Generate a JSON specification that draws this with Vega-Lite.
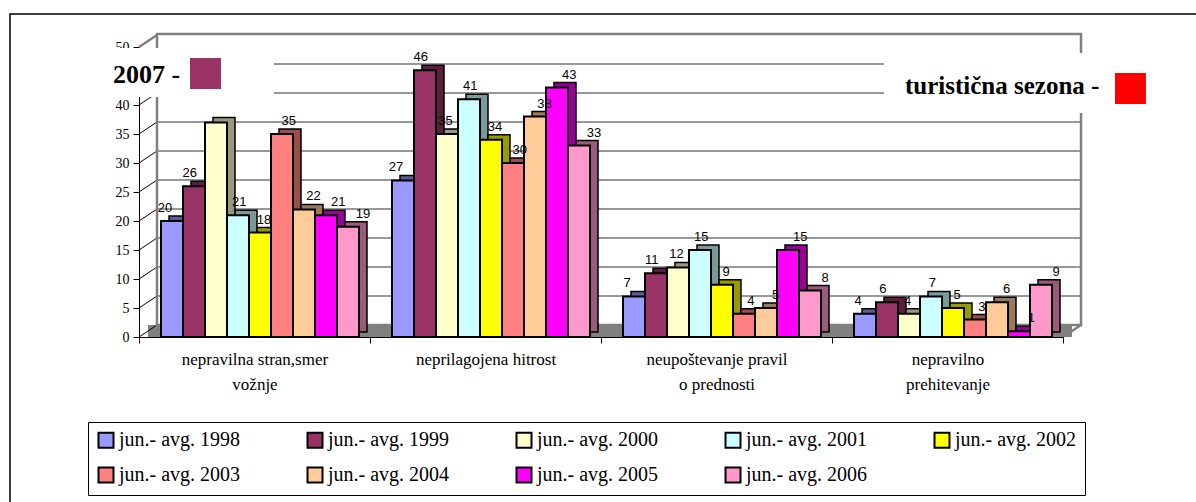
{
  "$schema": "https://vega.github.io/schema/vega-lite/v6.json",
  "width": 924,
  "height": 290,
  "autosize": {"type": "none"},
  "padding": {"left": 139, "top": 47, "right": 133, "bottom": 165},
  "background": "white",
  "config": {
    "view": {"stroke": null},
    "font": "Liberation Serif",
    "axis": {"labelFont": "Liberation Serif", "labelColor": "black", "tickColor": "black", "domainColor": "black", "grid": false},
    "axisX": {
      "tickBand": "extent", "tickSize": 6, "labelFontSize": 17,
      "labelAlign": "center", "labelBaseline": "top", "labelPadding": 8, "labelLineHeight": 25,
      "labelAngle": 0, "labelLimit": 400
    },
    "axisY": {"labelFontSize": 14, "tickSize": 6, "labelPadding": 4},
    "axisLeft": {"labelFontSize": 14, "tickSize": 6, "labelPadding": 4}
  },
  "datasets": {
    "bars": [
      {"cat": "nepravilna stran,smer vožnje", "year": "jun.- avg. 1998", "value": 20, "label": "20"},
      {"cat": "nepravilna stran,smer vožnje", "year": "jun.- avg. 1999", "value": 26, "label": "26"},
      {"cat": "nepravilna stran,smer vožnje", "year": "jun.- avg. 2000", "value": 37, "label": ""},
      {"cat": "nepravilna stran,smer vožnje", "year": "jun.- avg. 2001", "value": 21, "label": "21"},
      {"cat": "nepravilna stran,smer vožnje", "year": "jun.- avg. 2002", "value": 18, "label": "18"},
      {"cat": "nepravilna stran,smer vožnje", "year": "jun.- avg. 2003", "value": 35, "label": "35"},
      {"cat": "nepravilna stran,smer vožnje", "year": "jun.- avg. 2004", "value": 22, "label": "22"},
      {"cat": "nepravilna stran,smer vožnje", "year": "jun.- avg. 2005", "value": 21, "label": "21"},
      {"cat": "nepravilna stran,smer vožnje", "year": "jun.- avg. 2006", "value": 19, "label": "19"},
      {"cat": "neprilagojena hitrost", "year": "jun.- avg. 1998", "value": 27, "label": "27"},
      {"cat": "neprilagojena hitrost", "year": "jun.- avg. 1999", "value": 46, "label": "46"},
      {"cat": "neprilagojena hitrost", "year": "jun.- avg. 2000", "value": 35, "label": "35"},
      {"cat": "neprilagojena hitrost", "year": "jun.- avg. 2001", "value": 41, "label": "41"},
      {"cat": "neprilagojena hitrost", "year": "jun.- avg. 2002", "value": 34, "label": "34"},
      {"cat": "neprilagojena hitrost", "year": "jun.- avg. 2003", "value": 30, "label": "30"},
      {"cat": "neprilagojena hitrost", "year": "jun.- avg. 2004", "value": 38, "label": "38"},
      {"cat": "neprilagojena hitrost", "year": "jun.- avg. 2005", "value": 43, "label": "43"},
      {"cat": "neprilagojena hitrost", "year": "jun.- avg. 2006", "value": 33, "label": "33"},
      {"cat": "neupoštevanje pravil o prednosti", "year": "jun.- avg. 1998", "value": 7, "label": "7"},
      {"cat": "neupoštevanje pravil o prednosti", "year": "jun.- avg. 1999", "value": 11, "label": "11"},
      {"cat": "neupoštevanje pravil o prednosti", "year": "jun.- avg. 2000", "value": 12, "label": "12"},
      {"cat": "neupoštevanje pravil o prednosti", "year": "jun.- avg. 2001", "value": 15, "label": "15"},
      {"cat": "neupoštevanje pravil o prednosti", "year": "jun.- avg. 2002", "value": 9, "label": "9"},
      {"cat": "neupoštevanje pravil o prednosti", "year": "jun.- avg. 2003", "value": 4, "label": "4"},
      {"cat": "neupoštevanje pravil o prednosti", "year": "jun.- avg. 2004", "value": 5, "label": "5"},
      {"cat": "neupoštevanje pravil o prednosti", "year": "jun.- avg. 2005", "value": 15, "label": "15"},
      {"cat": "neupoštevanje pravil o prednosti", "year": "jun.- avg. 2006", "value": 8, "label": "8"},
      {"cat": "nepravilno prehitevanje", "year": "jun.- avg. 1998", "value": 4, "label": "4"},
      {"cat": "nepravilno prehitevanje", "year": "jun.- avg. 1999", "value": 6, "label": "6"},
      {"cat": "nepravilno prehitevanje", "year": "jun.- avg. 2000", "value": 4, "label": "4"},
      {"cat": "nepravilno prehitevanje", "year": "jun.- avg. 2001", "value": 7, "label": "7"},
      {"cat": "nepravilno prehitevanje", "year": "jun.- avg. 2002", "value": 5, "label": "5"},
      {"cat": "nepravilno prehitevanje", "year": "jun.- avg. 2003", "value": 3, "label": "3"},
      {"cat": "nepravilno prehitevanje", "year": "jun.- avg. 2004", "value": 6, "label": "6"},
      {"cat": "nepravilno prehitevanje", "year": "jun.- avg. 2005", "value": 1, "label": "1"},
      {"cat": "nepravilno prehitevanje", "year": "jun.- avg. 2006", "value": 9, "label": "9"}
    ],
    "ticks": [{"t": 0}, {"t": 5}, {"t": 10}, {"t": 15}, {"t": 20}, {"t": 25}, {"t": 30}, {"t": 35}, {"t": 40}, {"t": 45}, {"t": 50}],
    "one": [{"k": 1}]
  },
  "layer": [
    {
      "data": {"name": "one"},
      "mark": {"type": "rect", "fillOpacity": 0, "stroke": "black", "strokeWidth": 1.5},
      "encoding": {
        "x": {"datum": "nepravilna stran,smer vožnje", "type": "nominal", "bandPosition": -0.5584, "axis": {"title": null}},
        "x2": {"datum": "nepravilno prehitevanje", "bandPosition": 2},
        "y": {"datum": 55.69, "type": "quantitative", "axis": {"title": null, "orient": "left", "values": [0, 5, 10, 15, 20, 25, 30, 35, 40, 50], "labelFontSize": 14, "tickSize": 6, "labelPadding": 4, "labelFont": "Liberation Serif", "labelColor": "black"}},
        "y2": {"datum": -38}
      }
    },
    {
      "data": {"name": "one"},
      "mark": {"type": "rect", "fill": "#808080"},
      "encoding": {
        "x": {"datum": "nepravilna stran,smer vožnje", "type": "nominal", "bandPosition": 0.039, "axis": {"title": null}},
        "x2": {"datum": "nepravilno prehitevanje", "bandPosition": 1.039},
        "y": {"datum": 0, "type": "quantitative", "axis": {"title": null, "orient": "left", "values": [0, 5, 10, 15, 20, 25, 30, 35, 40, 50], "labelFontSize": 14, "tickSize": 6, "labelPadding": 4, "labelFont": "Liberation Serif", "labelColor": "black"}},
        "y2": {"datum": 2.069}
      }
    },
    {
      "data": {"name": "ticks"},
      "transform": [{"filter": "datum.t > 0 && datum.t < 50"}],
      "mark": {"type": "rule", "color": "#333333", "strokeWidth": 1, "yOffset": -12},
      "encoding": {
        "x": {"datum": "nepravilna stran,smer vožnje", "type": "nominal", "bandPosition": 0.0779, "axis": {"title": null}},
        "x2": {"datum": "nepravilno prehitevanje", "bandPosition": 1.078},
        "y": {"field": "t", "type": "quantitative", "axis": {"title": null, "orient": "left", "values": [0, 5, 10, 15, 20, 25, 30, 35, 40, 50], "labelFontSize": 14, "tickSize": 6, "labelPadding": 4, "labelFont": "Liberation Serif", "labelColor": "black"}}
      }
    },
    {
      "data": {"name": "ticks"},
      "mark": {"type": "rule", "color": "black", "strokeWidth": 1, "y2Offset": -12},
      "encoding": {
        "x": {"datum": "nepravilna stran,smer vožnje", "type": "nominal", "bandPosition": 0, "axis": {"title": null}},
        "x2": {"datum": "nepravilna stran,smer vožnje", "bandPosition": 0.0779},
        "y": {"field": "t", "type": "quantitative", "axis": {"title": null, "orient": "left", "values": [0, 5, 10, 15, 20, 25, 30, 35, 40, 50], "labelFontSize": 14, "tickSize": 6, "labelPadding": 4, "labelFont": "Liberation Serif", "labelColor": "black"}},
        "y2": {"field": "t"}
      }
    },
    {
      "data": {"name": "one"},
      "mark": {"type": "rect", "fillOpacity": 0, "stroke": "#808080", "strokeWidth": 2.5},
      "encoding": {
        "x": {"datum": "nepravilna stran,smer vožnje", "type": "nominal", "bandPosition": 0.0779, "axis": {"title": null}},
        "x2": {"datum": "nepravilno prehitevanje", "bandPosition": 1.078},
        "y": {"datum": 52.24, "type": "quantitative", "axis": {"title": null, "orient": "left", "values": [0, 5, 10, 15, 20, 25, 30, 35, 40, 50], "labelFontSize": 14, "tickSize": 6, "labelPadding": 4, "labelFont": "Liberation Serif", "labelColor": "black"}},
        "y2": {"datum": 2.069}
      }
    },
    {
      "data": {"name": "one"},
      "mark": {"type": "rule", "color": "#808080", "strokeWidth": 2.5, "y2Offset": -12},
      "encoding": {
        "x": {"datum": "nepravilna stran,smer vožnje", "type": "nominal", "bandPosition": 0, "axis": {"title": null}},
        "x2": {"datum": "nepravilna stran,smer vožnje", "bandPosition": 0.0779},
        "y": {"datum": 50, "type": "quantitative", "axis": {"title": null, "orient": "left", "values": [0, 5, 10, 15, 20, 25, 30, 35, 40, 50], "labelFontSize": 14, "tickSize": 6, "labelPadding": 4, "labelFont": "Liberation Serif", "labelColor": "black"}},
        "y2": {"datum": 50}
      }
    },
    {
      "data": {"name": "one"},
      "mark": {"type": "rule", "color": "#808080", "strokeWidth": 2.5, "y2Offset": -12},
      "encoding": {
        "x": {"datum": "nepravilno prehitevanje", "type": "nominal", "bandPosition": 1, "axis": {"title": null}},
        "x2": {"datum": "nepravilno prehitevanje", "bandPosition": 1.078},
        "y": {"datum": 0, "type": "quantitative", "axis": {"title": null, "orient": "left", "values": [0, 5, 10, 15, 20, 25, 30, 35, 40, 50], "labelFontSize": 14, "tickSize": 6, "labelPadding": 4, "labelFont": "Liberation Serif", "labelColor": "black"}},
        "y2": {"datum": 0}
      }
    },
    {
      "data": {"name": "bars"},
      "layer": [
        {
          "mark": {"type": "bar", "yOffset": -5, "y2Offset": -5, "stroke": "black", "strokeWidth": 1.5},
          "encoding": {
            "x": {"field": "cat", "type": "nominal", "axis": {"title": null}},
            "xOffset": {"field": "year", "type": "nominal", "scale": {"range": [30, 228], "paddingInner": 0, "paddingOuter": 0}},
            "y": {"field": "value", "type": "quantitative", "axis": {"title": null, "orient": "left", "values": [0, 5, 10, 15, 20, 25, 30, 35, 40, 50], "labelFontSize": 14, "tickSize": 6, "labelPadding": 4, "labelFont": "Liberation Serif", "labelColor": "black"}},
            "color": {"field": "year", "type": "nominal"}
          }
        },
        {
          "mark": {"type": "bar", "yOffset": -5, "y2Offset": -5, "fill": "black", "fillOpacity": 0.4},
          "encoding": {
            "x": {"field": "cat", "type": "nominal", "axis": {"title": null}},
            "xOffset": {"field": "year", "type": "nominal", "scale": {"range": [30, 228], "paddingInner": 0, "paddingOuter": 0}},
            "y": {"field": "value", "type": "quantitative", "axis": {"title": null, "orient": "left", "values": [0, 5, 10, 15, 20, 25, 30, 35, 40, 50], "labelFontSize": 14, "tickSize": 6, "labelPadding": 4, "labelFont": "Liberation Serif", "labelColor": "black"}}
          }
        },
        {
          "mark": {"type": "bar", "stroke": "black", "strokeWidth": 2},
          "encoding": {
            "x": {
              "field": "cat", "type": "nominal",
              "scale": {"domain": ["nepravilna stran,smer vožnje", "neprilagojena hitrost", "neupoštevanje pravil o prednosti", "nepravilno prehitevanje"], "paddingInner": 0, "paddingOuter": 0},
              "axis": {
                "title": null, "orient": "bottom",
                "labelExpr": "datum.value == 'nepravilna stran,smer vožnje' ? ['nepravilna stran,smer', 'vožnje'] : datum.value == 'neupoštevanje pravil o prednosti' ? ['neupoštevanje pravil', 'o prednosti'] : datum.value == 'nepravilno prehitevanje' ? ['nepravilno', 'prehitevanje'] : datum.value"
              }
            },
            "xOffset": {"field": "year", "type": "nominal", "scale": {"range": [22, 220], "paddingInner": 0, "paddingOuter": 0}},
            "y": {
              "field": "value", "type": "quantitative",
              "scale": {"domain": [0, 50], "nice": false},
              "axis": {"title": null, "orient": "left", "values": [0, 5, 10, 15, 20, 25, 30, 35, 40, 50], "labelFontSize": 14, "tickSize": 6, "labelPadding": 4, "labelFont": "Liberation Serif", "labelColor": "black"}
            },
            "color": {
              "field": "year", "type": "nominal",
              "scale": {
                "domain": ["jun.- avg. 1998", "jun.- avg. 1999", "jun.- avg. 2000", "jun.- avg. 2001", "jun.- avg. 2002", "jun.- avg. 2003", "jun.- avg. 2004", "jun.- avg. 2005", "jun.- avg. 2006"],
                "range": ["#9999FF", "#993366", "#FFFFCC", "#CCFFFF", "#FFFF00", "#FF8080", "#FFCC99", "#FF00FF", "#FF99CC"]
              },
              "legend": {
                "orient": "none", "legendX": -51, "legendY": 375, "direction": "horizontal", "columns": 5,
                "title": null, "symbolType": "square", "symbolSize": 225, "symbolStrokeColor": "black",
                "symbolStrokeWidth": 2, "labelFont": "Liberation Serif", "labelFontSize": 20, "labelColor": "black",
                "labelOffset": 3, "columnPadding": 62, "rowPadding": 11, "padding": 8, "strokeColor": "black",
                "fillColor": "white", "labelLimit": 300
              }
            }
          }
        },
        {
          "mark": {"type": "text", "font": "Liberation Sans", "fontSize": 13, "color": "black", "baseline": "bottom", "dy": -6},
          "encoding": {
            "x": {"field": "cat", "type": "nominal", "axis": {"title": null}},
            "xOffset": {"field": "year", "type": "nominal", "scale": {"range": [26, 224], "paddingInner": 0, "paddingOuter": 0}},
            "y": {"field": "value", "type": "quantitative", "axis": {"title": null, "orient": "left", "values": [0, 5, 10, 15, 20, 25, 30, 35, 40, 50], "labelFontSize": 14, "tickSize": 6, "labelPadding": 4, "labelFont": "Liberation Serif", "labelColor": "black"}},
            "text": {"field": "label"}
          }
        }
      ],
      "resolve": {"scale": {"xOffset": "independent"}}
    },
    {
      "data": {"name": "one"},
      "mark": {"type": "rect", "fill": "white"},
      "encoding": {
        "x": {"datum": "nepravilna stran,smer vožnje", "type": "nominal", "bandPosition": -0.169, "axis": {"title": null}},
        "x2": {"datum": "nepravilna stran,smer vožnje", "bandPosition": 0.584},
        "y": {"datum": 49.83, "type": "quantitative", "axis": {"title": null, "orient": "left", "values": [0, 5, 10, 15, 20, 25, 30, 35, 40, 50], "labelFontSize": 14, "tickSize": 6, "labelPadding": 4, "labelFont": "Liberation Serif", "labelColor": "black"}},
        "y2": {"datum": 41.38}
      }
    },
    {
      "data": {"name": "one"},
      "mark": {"type": "rect", "fill": "white"},
      "encoding": {
        "x": {"datum": "nepravilno prehitevanje", "type": "nominal", "bandPosition": 0.225, "axis": {"title": null}},
        "x2": {"datum": "nepravilno prehitevanje", "bandPosition": 1.42},
        "y": {"datum": 48.97, "type": "quantitative", "axis": {"title": null, "orient": "left", "values": [0, 5, 10, 15, 20, 25, 30, 35, 40, 50], "labelFontSize": 14, "tickSize": 6, "labelPadding": 4, "labelFont": "Liberation Serif", "labelColor": "black"}},
        "y2": {"datum": 38.62}
      }
    },
    {
      "data": {"name": "one"},
      "mark": {"type": "text", "font": "Liberation Serif", "fontWeight": "bold", "fontSize": 26, "align": "left", "baseline": "alphabetic", "color": "black"},
      "encoding": {
        "x": {"datum": "nepravilna stran,smer vožnje", "type": "nominal", "bandPosition": -0.1126, "axis": {"title": null}},
        "y": {"datum": 43.79, "type": "quantitative", "axis": {"title": null, "orient": "left", "values": [0, 5, 10, 15, 20, 25, 30, 35, 40, 50], "labelFontSize": 14, "tickSize": 6, "labelPadding": 4, "labelFont": "Liberation Serif", "labelColor": "black"}},
        "text": {"value": "2007 -"}
      }
    },
    {
      "data": {"name": "one"},
      "mark": {"type": "rect", "fill": "#993366"},
      "encoding": {
        "x": {"datum": "nepravilna stran,smer vožnje", "type": "nominal", "bandPosition": 0.2208, "axis": {"title": null}},
        "x2": {"datum": "nepravilna stran,smer vožnje", "bandPosition": 0.355},
        "y": {"datum": 48.1, "type": "quantitative", "axis": {"title": null, "orient": "left", "values": [0, 5, 10, 15, 20, 25, 30, 35, 40, 50], "labelFontSize": 14, "tickSize": 6, "labelPadding": 4, "labelFont": "Liberation Serif", "labelColor": "black"}},
        "y2": {"datum": 42.76}
      }
    },
    {
      "data": {"name": "one"},
      "mark": {"type": "text", "font": "Liberation Serif", "fontWeight": "bold", "fontSize": 25, "align": "left", "baseline": "alphabetic", "color": "black"},
      "encoding": {
        "x": {"datum": "nepravilno prehitevanje", "type": "nominal", "bandPosition": 0.316, "axis": {"title": null}},
        "y": {"datum": 41.9, "type": "quantitative", "axis": {"title": null, "orient": "left", "values": [0, 5, 10, 15, 20, 25, 30, 35, 40, 50], "labelFontSize": 14, "tickSize": 6, "labelPadding": 4, "labelFont": "Liberation Serif", "labelColor": "black"}},
        "text": {"value": "turistična sezona -"}
      }
    },
    {
      "data": {"name": "one"},
      "mark": {"type": "rect", "fill": "#FF0000"},
      "encoding": {
        "x": {"datum": "nepravilno prehitevanje", "type": "nominal", "bandPosition": 1.225, "axis": {"title": null}},
        "x2": {"datum": "nepravilno prehitevanje", "bandPosition": 1.359},
        "y": {"datum": 45.52, "type": "quantitative", "axis": {"title": null, "orient": "left", "values": [0, 5, 10, 15, 20, 25, 30, 35, 40, 50], "labelFontSize": 14, "tickSize": 6, "labelPadding": 4, "labelFont": "Liberation Serif", "labelColor": "black"}},
        "y2": {"datum": 40.17}
      }
    }
  ]
}
